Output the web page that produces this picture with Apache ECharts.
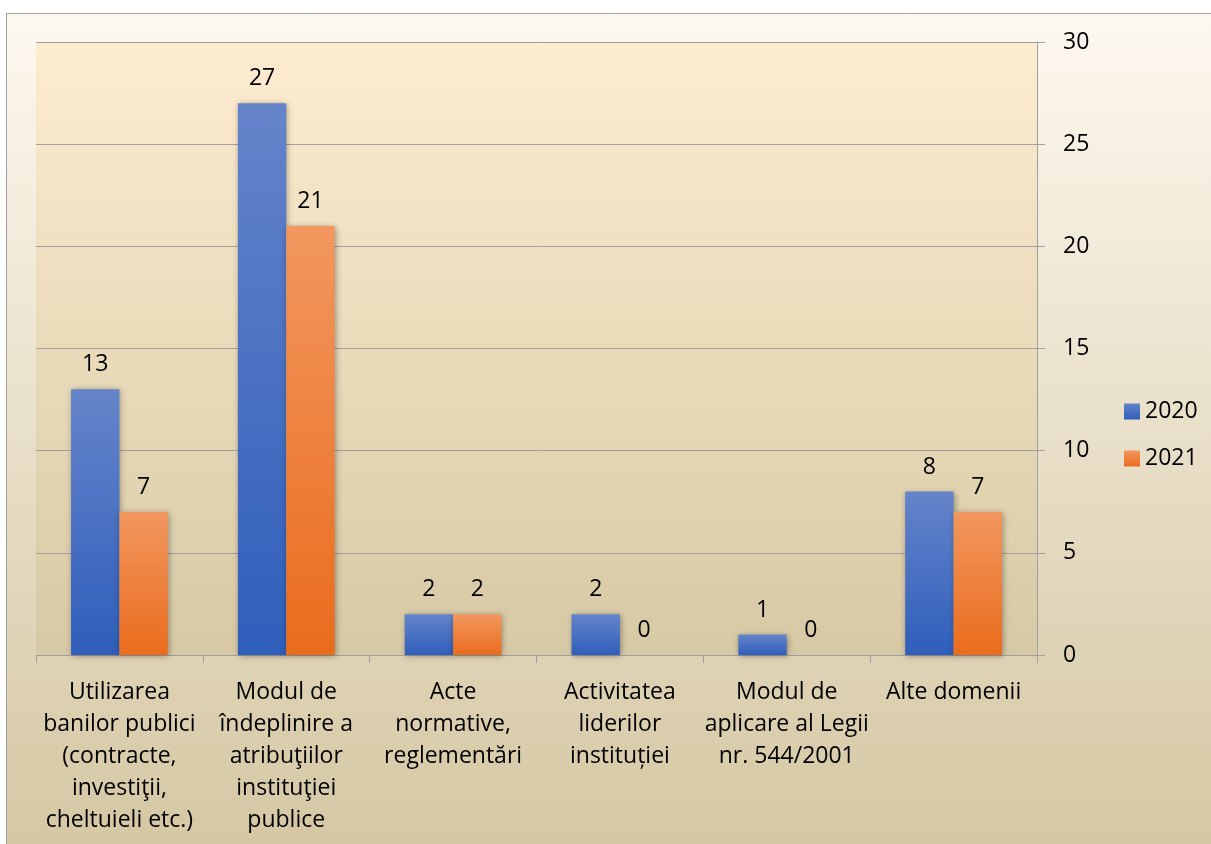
<!DOCTYPE html>
<html>
<head>
<meta charset="utf-8">
<script src="https://cdn.jsdelivr.net/npm/echarts@6/dist/echarts.min.js"></script>
<style>
  html, body { margin: 0; padding: 0; background: #ffffff; }
  #main { width: 1211px; height: 844px; }
</style>
</head>
<body>
<div id="main"></div>
<script>
// date din grafic
const categories = [
  'Utilizarea\nbanilor publici\n(contracte,\ninvestiţii,\ncheltuieli etc.)',
  'Modul de\nîndeplinire a\natribuţiilor\ninstituţiei\npublice',
  'Acte\nnormative,\nreglementări',
  'Activitatea\nliderilor\ninstituției',
  'Modul de\naplicare al Legii\nnr. 544/2001',
  'Alte domenii'
]
const values2020 = [13, 27, 2, 2, 1, 8]
const values2021 = [7, 21, 2, 0, 0, 7]
const seriesNames = ['2020', '2021']

const FONT = '"Open Sans", sans-serif'
const FS = 23

function vGrad (top, bottom) {
  return new echarts.graphic.LinearGradient(0, 0, 0, 1, [
    { offset: 0, color: top },
    { offset: 1, color: bottom }
  ])
}

const blue = vGrad('#6584ca', '#2f5ebb')
const orange = vGrad('#f2975f', '#ea6c1d')

const chart = echarts.init(document.getElementById('main'))
chart.setOption({
  animation: false,
  textStyle: { fontFamily: FONT },
  graphic: [{
    type: 'rect',
    z: -10,
    shape: { x: 6.5, y: 13.5, width: 1215, height: 840 },
    style: {
      fill: vGrad('#fdf8ef', '#d5c7a3'),
      stroke: '#a0a0a0',
      lineWidth: 1
    }
  }],
  grid: {
    left: 36,
    right: 174,
    top: 42,
    bottom: 189,
    show: true,
    borderWidth: 0,
    backgroundColor: vGrad('#fdecd0', '#d7c9a5')
  },
  legend: {
    orient: 'vertical',
    left: 1119,
    top: 395,
    itemWidth: 16,
    itemHeight: 16,
    itemGap: 24,
    icon: 'rect',
    data: seriesNames,
    textStyle: { fontSize: FS, color: '#000', fontFamily: FONT }
  },
  xAxis: {
    type: 'category',
    data: categories,
    axisLine: { show: true, lineStyle: { color: '#a0a0a0', width: 1 } },
    axisTick: { show: true, length: 8, lineStyle: { color: '#a0a0a0' } },
    axisLabel: {
      interval: 0,
      margin: 21,
      fontSize: FS,
      lineHeight: 32,
      color: '#000',
      fontFamily: FONT
    }
  },
  yAxis: {
    type: 'value',
    position: 'right',
    min: 0,
    max: 30,
    interval: 5,
    axisLine: { show: true, lineStyle: { color: '#a0a0a0' } },
    axisTick: { show: true, length: 8, lineStyle: { color: '#a0a0a0' } },
    axisLabel: { margin: 26, fontSize: FS, color: '#000', fontFamily: FONT },
    splitLine: { show: true, lineStyle: { color: '#a0a0a0', width: 1 } }
  },
  series: [
    {
      name: seriesNames[0],
      type: 'bar',
      data: values2020,
      barGap: '0%',
      barCategoryGap: '42%',
      itemStyle: {
        color: blue,
        shadowBlur: 6,
        shadowColor: 'rgba(0,0,0,0.35)',
        shadowOffsetX: 1,
        shadowOffsetY: 1
      },
      label: { show: true, position: 'top', distance: 13, fontSize: FS, color: '#000', fontFamily: FONT }
    },
    {
      name: seriesNames[1],
      type: 'bar',
      data: values2021,
      barGap: '0%',
      barCategoryGap: '42%',
      itemStyle: {
        color: orange,
        shadowBlur: 6,
        shadowColor: 'rgba(0,0,0,0.35)',
        shadowOffsetX: 1,
        shadowOffsetY: 1
      },
      label: { show: true, position: 'top', distance: 13, fontSize: FS, color: '#000', fontFamily: FONT }
    }
  ]
})
</script>
</body>
</html>
